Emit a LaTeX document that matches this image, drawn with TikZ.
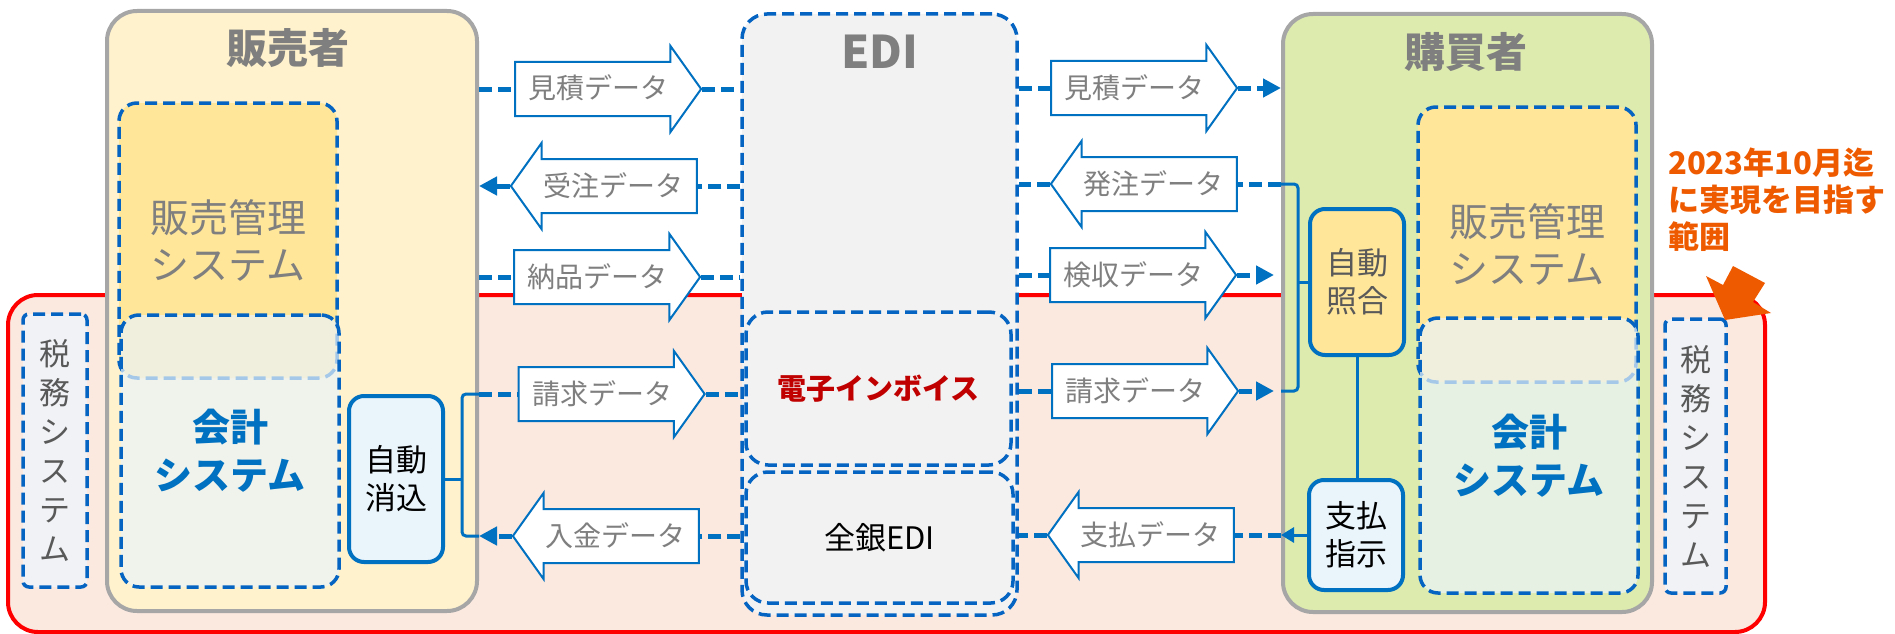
\documentclass[tikz,border=0pt]{standalone}
\usepackage{fontspec}
\setmainfont{Noto Sans CJK JP}
\usetikzlibrary{arrows.meta, positioning, shapes.arrows}
\definecolor{lineblue}{HTML}{0070C0}
\definecolor{dashblue}{HTML}{0563C1}
\definecolor{partygrey}{HTML}{A6A6A6}
\definecolor{sellerfill}{HTML}{FFF2CC}
\definecolor{buyerfill}{HTML}{DDEBAF}
\definecolor{sysfill}{HTML}{FFE699}
\definecolor{acctfill}{HTML}{EAF4FB}
\definecolor{taxfill}{HTML}{F0F2F5}
\definecolor{edifill}{HTML}{F2F2F2}
\definecolor{zonefill}{HTML}{FBE8DF}
\definecolor{zonered}{HTML}{FF0000}
\definecolor{textgrey}{HTML}{7F7F7F}
\definecolor{darkgrey}{HTML}{595959}
\definecolor{invred}{HTML}{C00000}
\definecolor{noteorange}{HTML}{EE5A00}

\begin{document}
\begin{tikzpicture}[x=1pt, y=-1pt,
    party/.style={draw=partygrey, line width=4pt, rounded corners=30pt, inner sep=0pt},
    headline/.style={font=\bfseries\fontsize{41}{41}\selectfont, text=textgrey},
    sysbox/.style={draw=dashblue, line width=3.5pt, dash pattern=on 12pt off 6pt, rounded corners=18pt, inner sep=0pt, align=center},
    salesys/.style={sysbox, fill=sysfill, text=textgrey, font=\fontsize{39}{47}\selectfont, minimum width=218pt, minimum height=275pt},
    acct/.style={sysbox, fill=acctfill, fill opacity=0.7, text opacity=1, text=lineblue, font=\bfseries\fontsize{38}{48}\selectfont},
    taxbox/.style={sysbox, rounded corners=6pt, fill=taxfill, text=darkgrey, font=\fontsize{31}{39}\selectfont},
    autobox/.style={draw=lineblue, line width=4pt, rounded corners=15pt, fill=acctfill, inner sep=0pt, align=center, font=\fontsize{31}{38}\selectfont, minimum width=94pt},
    blockR/.style={single arrow, draw=lineblue, line width=2pt, fill=white, minimum height=186pt, single arrow head extend=16pt, single arrow tip angle=109, inner ysep=12pt, inner xsep=6pt, text height=24pt, text depth=4pt, text=textgrey, font=\fontsize{28}{28}\selectfont},
    blockL/.style={blockR, shape border rotate=180},
    flow/.style={draw=lineblue, line width=5pt, dash pattern=on 13pt off 6pt},
    arrowend/.style={-{Triangle[length=18pt, width=18pt]}},
    bracket/.style={draw=lineblue, line width=3pt, rounded corners=4pt},
    notetext/.style={text=noteorange, font=\bfseries\fontsize{31}{37}\selectfont, align=left, inner sep=0pt}]
  \useasboundingbox (0,0) rectangle (1895,634);

  % target scope
  \node[draw=zonered, line width=4pt, fill=zonefill, rounded corners=30pt, minimum width=1757pt, minimum height=337pt] (zone) at (886.5,463.5) {};

  % seller side
  \node[party, fill=sellerfill, minimum width=370pt, minimum height=600pt] (seller) at (292,311) {};
  \node[headline] (sellername) at (288,48) {販売者};
  \node[salesys] (sellersys) at (228,240.5) {販売管理\\システム};
  \node[acct, minimum width=218pt, minimum height=272pt] (selleracct) at (230,451) {会計\\システム};
  \node[taxbox, minimum width=64pt, minimum height=273pt] (sellertax) at (55,450.5) {税\\務\\シ\\ス\\テ\\ム};
  \node[autobox, minimum height=166pt] (keshikomi) at (396,479) {自動\\消込};

  % EDI
  \node[sysbox, fill=edifill, rounded corners=25pt, minimum width=275pt, minimum height=601pt] (edi) at (879.5,314.5) {};
  \node[headline, font=\bfseries\fontsize{45}{45}\selectfont] (ediname) at (880,52) {EDI};
  \node[sysbox, fill=edifill, rounded corners=22pt, minimum width=265pt, minimum height=153pt, text=invred, font=\bfseries\fontsize{29}{29}\selectfont] (invoice) at (878.5,388.5) {電子インボイス};
  \node[sysbox, fill=edifill, rounded corners=22pt, minimum width=267pt, minimum height=131pt, font=\fontsize{31}{31}\selectfont] (zengin) at (879.5,537.5) {全銀EDI};

  % buyer side
  \node[party, fill=buyerfill, minimum width=369pt, minimum height=598pt] (buyer) at (1467.5,313) {};
  \node[headline] (buyername) at (1466,52) {購買者};
  \node[salesys] (buyersys) at (1527,244.5) {販売管理\\システム};
  \node[acct, minimum width=218pt, minimum height=275pt] (buyeracct) at (1529,455.5) {会計\\システム};
  \node[taxbox, minimum width=61pt, minimum height=274pt] (buyertax) at (1695.5,456) {税\\務\\シ\\ス\\テ\\ム};
  \node[autobox, fill=sysfill, text=darkgrey, minimum height=146pt] (shougou) at (1357,282) {自動\\照合};
  \node[autobox, minimum height=110pt] (shiji) at (1356,535) {支払\\指示};

  % data arrows
  \node[blockR] (quoteL) at (598.5,89) {見積データ};
  \node[blockL] (orderL) at (613.5,186) {受注データ};
  \node[blockR] (deliverL) at (597.5,277) {納品データ};
  \node[blockR] (billL) at (602,394) {請求データ};
  \node[blockL] (payinL) at (615.5,536) {入金データ};
  \node[blockR] (quoteR) at (1134.5,88) {見積データ};
  \node[blockL] (orderR) at (1153.5,184) {発注データ};
  \node[blockR] (inspectR) at (1133.5,275) {検収データ};
  \node[blockR] (billR) at (1135.5,391) {請求データ};
  \node[blockL] (payR) at (1150.5,535) {支払データ};

  \draw[flow] (seller.east |- quoteL.tail) -- (quoteL.tail);
  \draw[flow] (quoteL.tip) -- (edi.west |- quoteL.tip);
  \draw[flow] (edi.west |- orderL.tail) -- (orderL.tail);
  \draw[flow, arrowend] (orderL.tip) -- (seller.east |- orderL.tip);
  \draw[flow] (seller.east |- deliverL.tail) -- (deliverL.tail);
  \draw[flow] (deliverL.tip) -- (edi.west |- deliverL.tip);
  \draw[flow] (seller.east |- billL.tail) -- (billL.tail);
  \draw[flow] (billL.tip) -- (edi.west |- billL.tip);
  \draw[flow] (edi.west |- payinL.tail) -- (payinL.tail);
  \draw[flow, arrowend] (payinL.tip) -- (seller.east |- payinL.tip);

  \draw[flow] (edi.east |- quoteR.tail) -- (quoteR.tail);
  \draw[flow, arrowend] (quoteR.tip) -- (buyer.west |- quoteR.tip);
  \draw[flow] (buyer.west |- orderR.tail) -- (orderR.tail);
  \draw[flow] (orderR.tip) -- (edi.east |- orderR.tip);
  \draw[flow] (edi.east |- inspectR.tail) -- (inspectR.tail);
  \draw[flow, arrowend, shorten >=7pt] (inspectR.tip) -- (buyer.west |- inspectR.tip);
  \draw[flow] (edi.east |- billR.tail) -- (billR.tail);
  \draw[flow, arrowend, shorten >=7pt] (billR.tip) -- (buyer.west |- billR.tip);
  \draw[flow] (buyer.west |- payR.tail) -- (payR.tail);
  \draw[flow] (payR.tip) -- (edi.east |- payR.tip);
  \draw[bracket, -{Triangle[length=13pt, width=15pt]}] (shiji.west) -- (buyer.west |- shiji.west);

  % brackets
  \draw[bracket] (seller.east |- billL.tail) -| ([xshift=17pt]keshikomi.east) |- (seller.east |- payinL.tip);
  \draw[bracket] (keshikomi.east) -- ++(17,0);
  \draw[bracket] (buyer.west |- orderR.tail) -| ([xshift=-10pt]shougou.west) |- (buyer.west |- billR.tail);
  \draw[bracket] (shougou.west) -- ++(-10,0);
  \draw[bracket] (shougou.south) -- (shougou.south |- shiji.north);

  % note
  \node[notetext, anchor=west] (note) at (1668,200) {2023年10月迄\\に実現を目指す\\範囲};
  \fill[noteorange] (1725,320) -- (1771,313) -- (1753,302) -- (1765,283) -- (1733,266) -- (1723,285) -- (1706,276) -- cycle;
\end{tikzpicture}
\end{document}
